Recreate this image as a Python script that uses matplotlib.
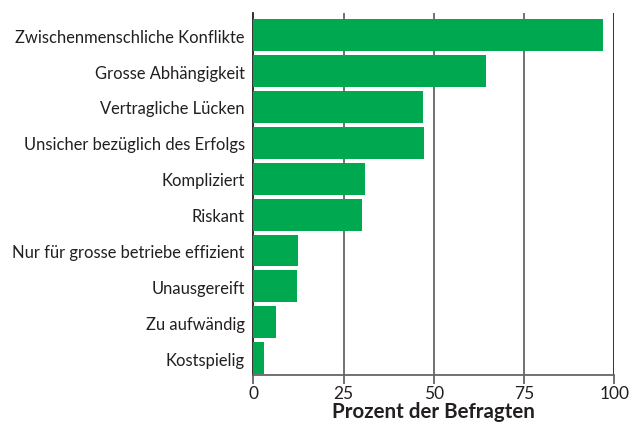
import matplotlib.pyplot as plt

# Data
categories = ["Zwischenmenschliche Konflikte", "Grosse Abhängigkeit", "Vertragliche Lücken",
              "Unsicher bezüglich des Erfolgs", "Kompliziert", "Riskant",
              "Nur für grosse betriebe effizient", "Unausgereift", "Zu aufwändig", "Kostspielig"]
values = [96.8, 64.4, 47.0, 47.2, 30.8, 30.0, 12.3, 12.0, 6.2, 2.9]
xticks = [0, 25, 50, 75, 100]

plt.rcParams['font.family'] = ['Lato', 'DejaVu Sans']

fig = plt.figure(figsize=(6.38, 4.27), dpi=100)
ax = fig.add_axes([0.397, 0.1194, 0.566, 0.8471])

pos = list(range(len(categories)))
ax.barh(pos, values, height=0.89, color="#00a84f", zorder=3)

# vertical grid lines
for t in xticks[1:]:
    ax.axvline(t, color="#222222" if t == 100 else "#666666", lw=1.3, zorder=1)

ax.set_xlim(0, 100)
ax.set_ylim(9.47, -0.61)
ax.set_yticks(pos)
ax.set_yticklabels(categories, fontsize=11.9, color="#231f20")
ax.tick_params(axis="y", length=0, pad=6)
ax.set_xticks(xticks)
ax.set_xticklabels([str(t) for t in xticks], fontsize=12.5, color="#231f20")
ax.tick_params(axis="x", length=6.5, width=1.3, color="#666666", pad=1)

for s in ["top", "right"]:
    ax.spines[s].set_visible(False)
ax.spines["left"].set_color("#231f20")
ax.spines["left"].set_linewidth(1.3)
ax.spines["bottom"].set_color("#666666")
ax.spines["bottom"].set_linewidth(1.3)

ax.set_xlabel("Prozent der Befragten", fontsize=14.8, fontweight="bold", color="#231f20", labelpad=0)

fig.savefig("out.png", dpi=100)
